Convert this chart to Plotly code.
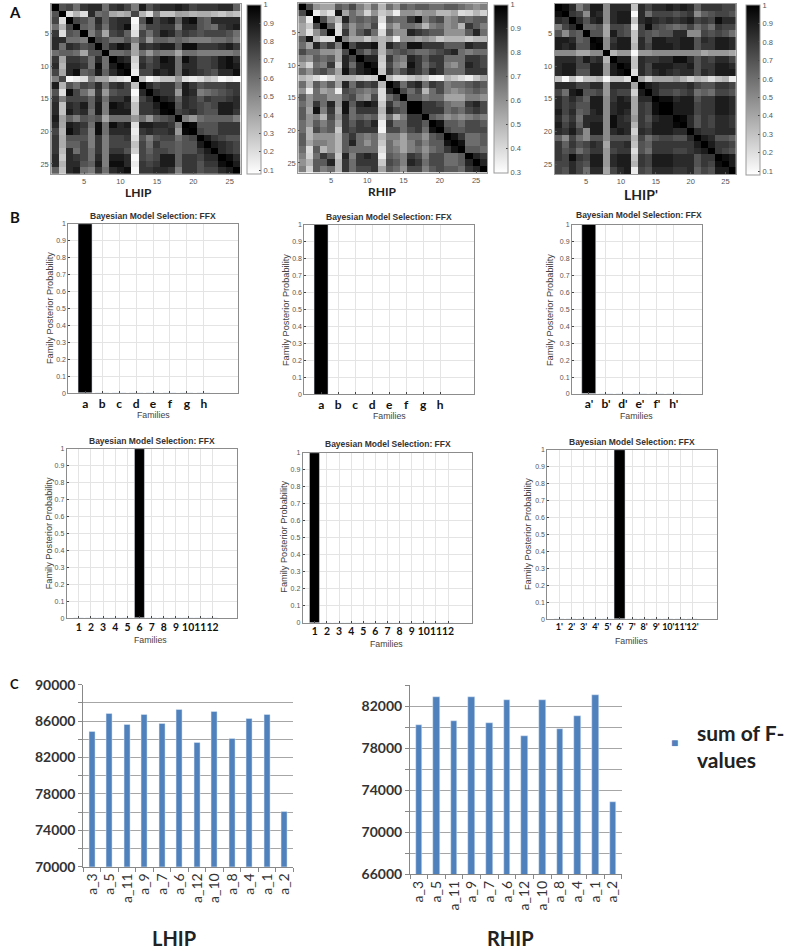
import numpy as np
import plotly.graph_objects as go

W, H = 787, 951

# upper triangles of the three correlation matrices (diagonal left out, it is all 1)
lhip_upper = [
    [.7, .75, .6, .8, .85, .85, .6, .8, .85, .75, .55, .9, .7, .8, .85, .85, .9, .85, .75, .8, .8, .8, .85, .85, .65],
    [.2, .35, .2, .85, .6, .65, .4, .35, .4, .75, .35, .2, .55, .3, .3, .42, .4, .35, .38, .38, .33, .28, .35, .3],
    [.75, .7, .6, .85, .65, .8, .85, .85, .1, .7, .95, .75, .85, .9, .65, .9, .95, .7, .65, .85, .85, .85, .85],
    [.65, .6, .8, .6, .8, .85, .95, .15, .6, .75, .75, .8, .8, .55, .85, .85, .7, .65, .6, .8, .85, .9],
    [.55, .7, .4, .75, .8, .65, .2, .75, .6, .75, .9, .85, .7, .8, .75, .7, .75, .75, .75, .7, .6],
    [.75, .7, .6, .6, .7, .55, .7, .45, .65, .65, .6, .65, .6, .55, .55, .55, .6, .6, .65, .55],
    [.7, .85, .95, .9, .4, .85, .8, .85, .9, .9, .7, .95, .95, .8, .8, .8, .85, .9, .8],
    [.6, .6, .65, .4, .6, .45, .6, .55, .55, .4, .6, .6, .55, .55, .55, .55, .55, .6],
    [.9, .85, .25, .8, .7, .8, .95, .9, .6, .95, .85, .75, .75, .8, .9, .95, .85],
    [.95, .2, .85, .75, .8, .9, .9, .6, .85, .85, .75, .75, .8, .9, .95, .9],
    [.15, .75, .75, .9, .85, .9, .6, .9, .85, .8, .75, .7, .85, .85, .95],
    [.3, .1, .2, .3, .3, .45, .2, .15, .2, .3, .25, .1, .15, .1],
    [.85, .75, .8, .8, .6, .9, .8, .7, .75, .75, .75, .8, .8],
    [.85, .8, .8, .45, .9, .85, .55, .6, .65, .7, .75, .8],
    [.9, .85, .65, .85, .8, .7, .8, .75, .75, .8, .85],
    [.98, .7, .85, .8, .75, .7, .75, .9, .9, .85],
    [.75, .8, .85, .75, .7, .7, .9, .9, .8],
    [.55, .45, .6, .65, .65, .65, .65, .55],
    [.97, .7, .7, .7, .8, .8, .8],
    [.75, .7, .7, .8, .8, .8],
    [.9, .8, .75, .7, .7],
    [.9, .85, .8, .75],
    [.85, .8, .75],
    [.95, .85],
    [.9],
]
rhip_upper = [
    [.8, .6, .55, .55, .75, .7, .8, .65, .55, .7, .5, .7, .6, .75, .7, .75, .75, .7, .7, .75, .75, .7, .65, .6, .65],
    [.35, .45, .38, .95, .55, .7, .6, .42, .6, .45, .5, .35, .6, .6, .55, .6, .6, .5, .5, .55, .4, .42, .5, .42],
    [.8, .6, .5, .9, .7, .75, .7, .75, .4, .75, .7, .7, .85, .95, .65, .75, .8, .6, .65, .75, .7, .75, .75],
    [.75, .4, .75, .6, .7, .65, .8, .33, .65, .55, .7, .7, .65, .5, .65, .7, .6, .65, .5, .85, .75, .65],
    [.4, .85, .6, .75, .85, .7, .4, .75, .6, .6, .9, .85, .8, .75, .75, .6, .6, .6, .75, .9, .7],
    [.65, .55, .55, .45, .55, .5, .55, .35, .6, .6, .55, .6, .55, .45, .5, .5, .5, .45, .5, .5],
    [.8, .9, .9, .95, .5, .9, .8, .75, .95, .95, .85, .85, .85, .75, .75, .75, .9, .85, .85],
    [.8, .7, .8, .5, .7, .75, .8, .75, .7, .7, .75, .8, .85, .9, .7, .65, .7, .7],
    [.9, .9, .45, .85, .7, .65, .9, .85, .75, .85, .85, .7, .7, .7, .85, .85, .8],
    [.95, .42, .8, .65, .6, .95, .85, .7, .8, .85, .65, .6, .7, .9, .85, .8],
    [.45, .85, .7, .8, .9, .85, .75, .9, .85, .7, .7, .7, .85, .85, .85],
    [.5, .4, .4, .45, .5, .45, .35, .33, .5, .45, .4, .35, .45, .55],
    [.9, .7, .85, .9, .7, .85, .8, .65, .7, .7, .75, .8, .75],
    [.8, .7, .8, .5, .7, .8, .65, .6, .65, .7, .75, .7],
    [.75, .75, .65, .7, .7, .55, .55, .55, .65, .65, .6],
    [1, .85, .85, .8, .7, .65, .65, .85, .9, .8],
    [.85, .85, .85, .7, .75, .7, .8, .85, .8],
    [.75, .7, .6, .65, .6, .65, .7, .65],
    [.95, .75, .75, .7, .8, .8, .75],
    [.8, .75, .75, .8, .8, .8],
    [.95, .85, .7, .7, .75],
    [.95, .7, .7, .75],
    [.75, .75, .7],
    [.9, .85],
    [.9],
]
lhip_prime_upper = [
    [.95, .85, .55, .7, .9, .9, .5, .85, .85, .85, .3, .85, .75, .85, .85, .9, .85, .9, .85, .65, .8, .8, .8, .75, .75],
    [.8, .75, .5, .9, .85, .5, .85, .9, .9, .1, .85, .6, .75, .75, .75, .7, .75, .8, .5, .65, .7, .75, .75, .7],
    [.85, .7, .85, .9, .5, .85, .9, .9, .3, .85, .9, .85, .8, .85, .8, .85, .9, .75, .8, .75, .95, .85, .85],
    [.65, .65, .7, .4, .75, .75, .7, .15, .75, .95, .75, .7, .65, .6, .65, .75, .6, .7, .6, .8, .75, .75],
    [.7, .7, .4, .9, .75, .7, .3, .75, .7, .65, .7, .7, .85, .85, .5, .5, .75, .7, .75, .7, .6],
    [.97, .5, .8, .9, .9, .3, .85, .7, .9, .9, .85, .85, .9, .9, .7, .85, .8, .9, .9, .85],
    [.5, .85, .9, .9, .35, .85, .75, .9, .9, .9, .85, .9, .9, .7, .8, .8, .9, .9, .85],
    [.35, .45, .45, .1, .45, .45, .5, .5, .5, .5, .5, .5, .5, .4, .45, .45, .45, .4],
    [.9, .9, .3, .85, .8, .8, .85, .85, .95, .95, .85, .7, .8, .75, .85, .85, .75],
    [.95, .3, .85, .75, .9, .9, .9, .85, .85, .9, .7, .8, .8, .9, .9, .85],
    [.2, .85, .75, .85, .9, .85, .8, .85, .85, .7, .85, .8, .9, .9, .9],
    [.4, .25, .4, .4, .4, .45, .35, .25, .35, .3, .2, .3, .35, .15],
    [.9, .85, .8, .8, .8, .8, .85, .75, .7, .7, .8, .8, .75],
    [.85, .75, .75, .7, .75, .8, .6, .65, .6, .75, .75, .7],
    [.95, .95, .85, .9, .9, .7, .8, .8, .9, .9, .85],
    [1, .9, .9, .9, .75, .8, .8, .9, .9, .85],
    [.9, .9, .9, .75, .8, .8, .9, .9, .85],
    [.97, .85, .7, .8, .75, .85, .85, .8],
    [.85, .7, .8, .75, .85, .85, .8],
    [.85, .8, .8, .85, .85, .85],
    [.9, .85, .7, .7, .65],
    [.9, .8, .8, .75],
    [.8, .75, .7],
    [.95, .9],
    [.9],
]
matrix_ticks = [5, 10, 15, 20, 25]

family_ticks_8 = [1, 2, 3, 4, 5, 6, 7, 8]
family_ticks_6 = [1, 2, 3, 4, 5, 6]
family_ticks_12 = list(range(1, 13))
letters = ["a", "b", "c", "d", "e", "f", "g", "h"]
letters_prime = ["a'", "b'", "d'", "e'", "f'", "h'"]
numbers = [str(i) for i in family_ticks_12]
numbers_prime = [f"{i}'" for i in family_ticks_12]
probs_a = [1, 0, 0, 0, 0, 0, 0, 0]
probs_a_prime = [1, 0, 0, 0, 0, 0]
probs_6 = [0, 0, 0, 0, 0, 1, 0, 0, 0, 0, 0, 0]
probs_1 = [1, 0, 0, 0, 0, 0, 0, 0, 0, 0, 0, 0]
prob_ticks = [0, .1, .2, .3, .4, .5, .6, .7, .8, .9, 1]

models = ["a_3", "a_5", "a_11", "a_9", "a_7", "a_6", "a_12", "a_10", "a_8", "a_4", "a_1", "a_2"]
lhip_f = [84800, 86810, 85570, 86740, 85750, 87210, 83660, 87070, 84070, 86230, 86740, 76040]
rhip_f = [80220, 82820, 80570, 82890, 80350, 82600, 79140, 82600, 79780, 81020, 83080, 72890]

ARIAL = "Liberation Sans"
CALIBRI = "Lato"
GREY_TEXT = "#555555"


def dom_x(left, right):
    return [left / W, right / W]


def dom_y(top, bottom):
    return [1 - bottom / H, 1 - top / H]


def symmetric(upper):
    n = len(upper) + 1
    m = np.ones((n, n))
    for i, row in enumerate(upper):
        for j, v in enumerate(row):
            m[i, i + 1 + j] = v
            m[i + 1 + j, i] = v
    return m


fig = go.Figure()
layout = {}
notes = []


def note(text, x, y, size, color="#222222", family=ARIAL, angle=0, anchor="center"):
    notes.append(dict(text=text, x=x / W, y=1 - y / H, xref="paper", yref="paper", showarrow=False,
                      xanchor=anchor, yanchor="middle", textangle=angle, align=anchor,
                      font=dict(size=size, color=color, family=family)))


# panel A
heatmaps = [
    (lhip_upper, 0.08, (51.3, 240.7, 4, 173.7), (247, 5, 173.7), "LHIP", 138, 192.5, 12),
    (rhip_upper, 0.3, (298.3, 487, 3.3, 172.7), (493.5, 5, 172.7), "RHIP", 382.7, 191.5, 12),
    (lhip_prime_upper, 0.08, (554.7, 736, 4, 174), (746, 5, 175), "LHIP'", 641, 194, 14),
]
n_axis = 0
for k, (upper, zmin, box, cbar, label, lx, ly, lsize) in enumerate(heatmaps):
    n_axis += 1
    l, r, t, b = box
    fig.add_trace(go.Heatmap(
        z=symmetric(upper),
        x=list(range(1, 27)),
        y=list(range(1, 27)),
        coloraxis=f"coloraxis{k + 1 if k else ''}",
        xaxis=f"x{n_axis}",
        yaxis=f"y{n_axis}",
    ))
    layout[f"coloraxis{k + 1 if k else ''}"] = dict(
        cmin=zmin, cmax=1,
        colorscale=[[0, "#ffffff"], [1, "#000000"]],
        colorbar=dict(
            x=cbar[0] / W, xanchor="left", xpad=0, ypad=0,
            y=1 - (cbar[1] + cbar[2]) / 2 / H, yanchor="middle",
            lenmode="pixels", len=cbar[2] - cbar[1],
            thicknessmode="pixels", thickness=13.5,
            tickvals=[.1, .2, .3, .4, .5, .6, .7, .8, .9, 1],
            ticktext=["0.1", "0.2", "0.3", "0.4", "0.5", "0.6", "0.7", "0.8", "0.9", "1"],
            ticks="inside", ticklen=2, tickcolor="#444444",
            outlinecolor="#999999", outlinewidth=1,
            tickfont=dict(size=7.5, color=GREY_TEXT, family=ARIAL),
        ),
    )
    layout[f"xaxis{n_axis}"] = dict(
        domain=dom_x(l, r), anchor=f"y{n_axis}", range=[0.5, 26.5], tickvals=matrix_ticks,
        ticks="inside", ticklen=2, tickcolor="#555555", showline=True, linecolor="#999999", mirror=True,
        showgrid=False, zeroline=False, tickfont=dict(size=7.5, color=GREY_TEXT, family=ARIAL))
    layout[f"yaxis{n_axis}"] = dict(
        domain=dom_y(t, b), anchor=f"x{n_axis}", range=[26.5, 0.5], tickvals=matrix_ticks,
        ticks="inside", ticklen=2, tickcolor="#555555", showline=True, linecolor="#999999", mirror=True,
        showgrid=False, zeroline=False, tickfont=dict(size=7.5, color=GREY_TEXT, family=ARIAL))
    note(f"<b>{label}</b>", lx, ly, lsize, "#222222", CALIBRI)

# panel B
panels = [
    (family_ticks_8, letters, probs_a, 0.8, [0, 10], (68.3, 237.7, 224, 393.3), (153, 215.7), (153, 415), (50, 308), 12),
    (family_ticks_8, letters, probs_a, 0.8, [0, 10], (304.3, 474, 224.7, 394.3), (389.3, 216.7), (389, 416), (286, 310), 12),
    (family_ticks_6, letters_prime, probs_a_prime, 0.8, [0, 7.68], (572, 702.3, 224.7, 394), (639.3, 215), (636.7, 416.5), (550, 310), 12),
    (family_ticks_12, numbers, probs_6, 0.86, [0, 14], (66.7, 236.7, 449, 618.3), (151.7, 440.7), (150.7, 640), (49, 533.3), 10.4),
    (family_ticks_12, numbers, probs_1, 0.86, [0, 14], (302.7, 472.3, 453, 622.7), (387.7, 444.3), (386.7, 644), (284, 536.7), 10.4),
    (family_ticks_12, numbers_prime, probs_6, 0.86, [0, 14], (547.3, 716.7, 450, 619.3), (632, 441.7), (631.3, 641), (528, 534), 9),
]
for ticks, labels, probs, bar_w, xr, box, title_pos, fam_pos, ylab_pos, tick_size in panels:
    n_axis += 1
    l, r, t, b = box
    fig.add_trace(go.Bar(x=ticks, y=probs, width=bar_w, marker=dict(color="#000000"),
                         showlegend=False, xaxis=f"x{n_axis}", yaxis=f"y{n_axis}"))
    layout[f"xaxis{n_axis}"] = dict(
        domain=dom_x(l, r), anchor=f"y{n_axis}", range=xr, tickvals=ticks, ticktext=labels, tickangle=0,
        ticks="inside", ticklen=2, tickcolor="#444444", showline=True, linecolor="#8c8c8c", linewidth=1, mirror=True,
        showgrid=True, gridcolor="#e4e4e4", zeroline=False, ticklabelstandoff=-1,
        tickfont=dict(size=tick_size, color="#111111", family=CALIBRI, weight="bold"))
    layout[f"yaxis{n_axis}"] = dict(
        domain=dom_y(t, b), anchor=f"x{n_axis}", range=[0, 1], tickvals=prob_ticks,
        ticktext=[f"{v:g}" for v in prob_ticks],
        ticks="inside", ticklen=2, tickcolor="#444444", showline=True, linecolor="#8c8c8c", linewidth=1, mirror=True,
        showgrid=True, gridcolor="#e4e4e4", zeroline=False,
        tickfont=dict(size=7, color=GREY_TEXT, family=ARIAL))
    note("<b>Bayesian Model Selection: FFX</b>", title_pos[0], title_pos[1], 8.5, "#333333")
    note("Families", fam_pos[0], fam_pos[1], 8.8, "#444444")
    note("Family Posterior Probability", ylab_pos[0], ylab_pos[1], 9.2, "#444444", angle=-90)

# panel C
columns = [
    (lhip_f, [70000, 90000], [70000, 74000, 78000, 82000, 86000, 90000], (83.3, 293.3, 684.7, 866.7), "LHIP", 174, 937.5),
    (rhip_f, [66000, 84000], [66000, 70000, 74000, 78000, 82000], (410, 621.7, 685, 874.3), "RHIP", 510.7, 937.5),
]
for values, yr, yticks, box, label, lx, ly in columns:
    n_axis += 1
    l, r, t, b = box
    fig.add_trace(go.Bar(x=models, y=values, width=0.37, marker=dict(color="#4f81bd"),
                         showlegend=False, xaxis=f"x{n_axis}", yaxis=f"y{n_axis}"))
    layout[f"xaxis{n_axis}"] = dict(
        domain=dom_x(l, r), anchor=f"y{n_axis}", type="category", tickson="boundaries", tickangle=-90,
        ticks="outside", ticklen=4, tickcolor="#888888", showline=True, linecolor="#888888", showgrid=False,
        tickfont=dict(size=14, color="#333333", family=CALIBRI))
    layout[f"yaxis{n_axis}"] = dict(
        domain=dom_y(t, b), anchor=f"x{n_axis}", range=yr, tickvals=yticks,
        ticktext=[str(v) for v in yticks],
        ticks="outside", ticklen=4, tickcolor="#888888", showline=True, linecolor="#888888",
        showgrid=True, gridcolor="#a6a6a6", gridwidth=1, zeroline=False,
        minor=dict(dtick=2000, showgrid=True, gridcolor="#a6a6a6", gridwidth=1, ticks="outside", ticklen=4,
                   tickcolor="#888888"),
        tickfont=dict(size=14, color="#333333", family=CALIBRI, weight="bold"))
    note(f"<b>{label}</b>", lx, ly, 20, "#222222", CALIBRI)

note("■", 674.7, 742.7, 12, "#4f81bd")
note("<b>sum of F-<br>values</b>", 695, 746, 21, "#222222", CALIBRI, anchor="left")
note("<b>A</b>", 15, 11.7, 15, "#111111", CALIBRI)
note("<b>B</b>", 15, 216.7, 15, "#111111", CALIBRI)
note("<b>C</b>", 14.7, 684, 13, "#111111", CALIBRI)

fig.update_layout(
    width=W,
    height=H,
    margin=dict(l=0, r=0, t=0, b=0, autoexpand=False),
    paper_bgcolor="#ffffff",
    plot_bgcolor="#ffffff",
    showlegend=False,
    bargap=0,
    annotations=notes,
    **layout,
)

fig.write_html("out.html", config=dict(displayModeBar=False),
               post_script="document.body.style.margin='0';document.body.style.overflow='hidden';")
